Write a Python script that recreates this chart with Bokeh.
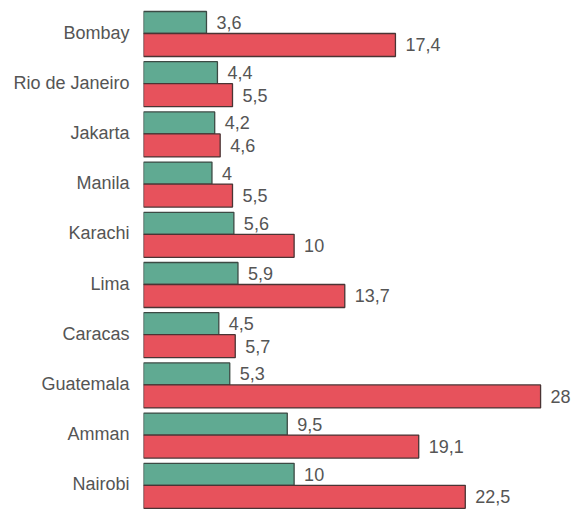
from bokeh.plotting import figure
from bokeh.models import Range1d, FactorRange, ColumnDataSource
from bokeh.transform import dodge
from bokeh.core.properties import value
from bokeh.embed import file_html
from bokeh.resources import INLINE

cities = ["Bombay", "Rio de Janeiro", "Jakarta", "Manila", "Karachi",
          "Lima", "Caracas", "Guatemala", "Amman", "Nairobi"]
series_green = [3.6, 4.4, 4.2, 4.0, 5.6, 5.9, 4.5, 5.3, 9.5, 10.0]
series_red = [17.4, 5.5, 4.6, 5.5, 10.0, 13.7, 5.7, 28.0, 19.1, 22.5]


def fmt(v):
    return f"{v:g}".replace(".", ",")


BASE = -1.0
FONT = "Liberation Sans"

src = ColumnDataSource(dict(
    city=cities, g=series_green, r=series_red,
    lg=[fmt(v) for v in series_green], lr=[fmt(v) for v in series_red],
))

p = figure(width=575, height=509, output_backend="svg", toolbar_location=None,
           y_range=FactorRange(factors=list(reversed(cities)), range_padding=0, factor_padding=0),
           x_range=Range1d(BASE, 30.55), x_axis_location=None,
           min_border_left=143, min_border_right=0, min_border_top=7, min_border_bottom=0)
p.outline_line_color = None
p.grid.visible = False
p.background_fill_color = "white"

GREEN_OFF, GREEN_H = 0.201, 0.438
RED_OFF, RED_H = -0.247, 0.458

p.hbar(y=dodge("city", GREEN_OFF, range=p.y_range), left=BASE, right="g", height=GREEN_H,
       source=src, fill_color="#60aa92", line_color="#3c4a44", line_width=1.3)
p.hbar(y=dodge("city", RED_OFF, range=p.y_range), left=BASE, right="r", height=RED_H,
       source=src, fill_color="#e7525c", line_color="#4a3434", line_width=1.3)

p.text(x="g", y=dodge("city", GREEN_OFF, range=p.y_range), text="lg", source=src,
       x_offset=10, text_baseline="middle", text_align="left",
       text_font=value(FONT), text_font_size="18px", text_color="#555555")
p.text(x="r", y=dodge("city", RED_OFF, range=p.y_range), text="lr", source=src,
       x_offset=10, text_baseline="middle", text_align="left",
       text_font=value(FONT), text_font_size="18px", text_color="#555555")

ax = p.yaxis[0]
ax.axis_line_color = None
ax.major_tick_line_color = None
ax.major_tick_out = 0
ax.major_label_standoff = 14
ax.major_label_text_font = FONT
ax.major_label_text_font_size = "18px"
ax.major_label_text_color = "#555555"

open("out.html", "w").write(file_html(p, INLINE))
